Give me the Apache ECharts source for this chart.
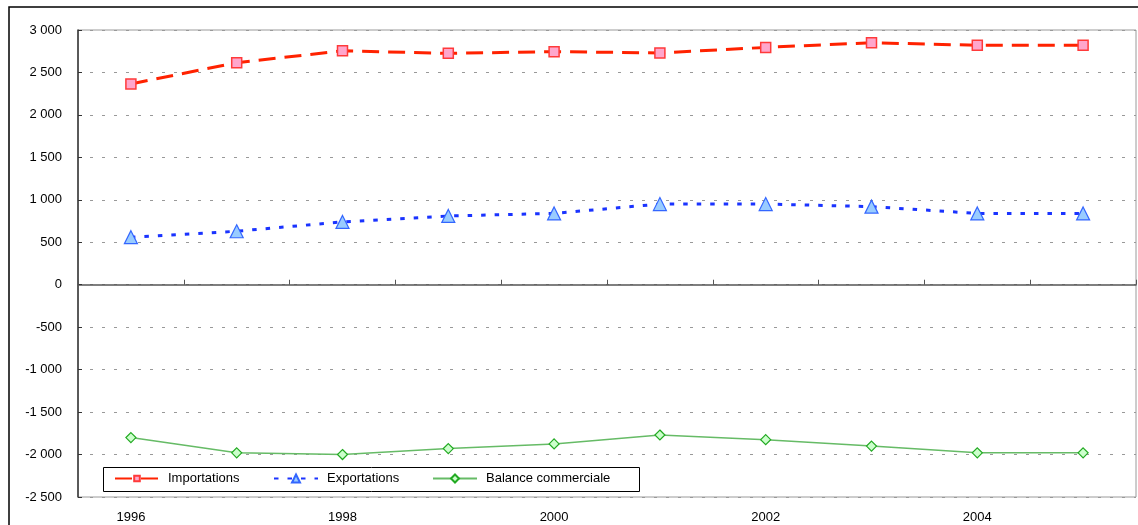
<!DOCTYPE html>
<html>
<head>
<meta charset="utf-8">
<script src="https://cdn.jsdelivr.net/npm/echarts@6/dist/echarts.min.js"></script>
<style>
  html, body { margin: 0; padding: 0; background: #fff; }
  #chart { width: 1138px; height: 525px; }
</style>
</head>
<body>
<div id="chart"></div>
<script>
const years = ['1996','1997','1998','1999','2000','2001','2002','2003','2004','2005'];
const importations = [2365, 2615, 2755, 2725, 2745, 2730, 2795, 2850, 2820, 2820];
const exportations = [560, 630, 740, 810, 840, 950, 950, 920, 840, 840];
const balance = [-1800, -1980, -2000, -1930, -1875, -1770, -1825, -1900, -1980, -1980];
const seriesNames = ['Importations', 'Exportations', 'Balance commerciale'];

const FONT = '"Liberation Sans", Arial, sans-serif';

function fmt(v) {
  const s = Math.abs(v).toString().replace(/\B(?=(\d{3})+(?!\d))/g, ' ');
  return (v < 0 ? '-' : '') + s;
}

const chart = echarts.init(document.getElementById('chart'), null, { renderer: 'canvas' });

const legendBase = {
  orient: 'horizontal',
  top: 472,
  padding: 0,
  itemWidth: 44,
  itemHeight: 10,
  textStyle: { fontFamily: FONT, fontSize: 13, color: '#000', padding: [0, 0, 0, 4] },
  selectedMode: false
};

chart.setOption({
  animation: false,
  backgroundColor: '#fff',
  textStyle: { fontFamily: FONT },
  grid: {
    left: 78, right: 2, top: 30, bottom: 28,
    show: true, borderColor: '#9a9a9a', borderWidth: 1, backgroundColor: '#fff'
  },
  xAxis: [
    {
      type: 'category', data: years, position: 'bottom', boundaryGap: true,
      axisLine: { show: false, onZero: false },
      axisTick: { show: false },
      axisLabel: { interval: 1, fontSize: 13, color: '#000', fontFamily: FONT, margin: 14 },
      splitLine: { show: false }
    },
    {
      type: 'category', data: years, position: 'top', boundaryGap: true,
      axisLine: { show: true, onZero: true, lineStyle: { color: '#555', width: 1.5 } },
      axisTick: { show: true, interval: 0, length: 5, inside: false, lineStyle: { color: '#555' } },
      axisLabel: { show: false },
      splitLine: { show: false }
    }
  ],
  yAxis: {
    type: 'value', min: -2500, max: 3000, interval: 500,
    axisLine: { show: true, lineStyle: { color: '#333', width: 1.5 } },
    axisTick: { show: true, inside: true, length: 4, lineStyle: { color: '#333' } },
    axisLabel: { formatter: fmt, fontSize: 13, color: '#000', fontFamily: FONT, margin: 16 },
    splitLine: { show: true, lineStyle: { color: '#999999', type: [3, 9], width: 1 } }
  },
  legend: [
    Object.assign({}, legendBase, { left: 114, data: [seriesNames[0]], itemHeight: 7 }),
    Object.assign({}, legendBase, { left: 273, data: [seriesNames[1]] }),
    Object.assign({}, legendBase, { left: 432, data: [seriesNames[2]] })
  ],
  graphic: [
    { type: 'rect', shape: { x: 9, y: 7, width: 1140, height: 540 },
      style: { fill: 'none', stroke: '#000', lineWidth: 1.5 }, silent: true, z: 100 },
    { type: 'rect', shape: { x: 103.5, y: 467.5, width: 536, height: 24 },
      style: { fill: 'none', stroke: '#000', lineWidth: 1 }, silent: true, z: 100 }
  ],
  series: [
    {
      name: seriesNames[0], type: 'line', data: importations, xAxisIndex: 0,
      symbol: 'rect', symbolSize: 10,
      lineStyle: { color: '#ff2200', width: 3, type: [17, 9] },
      itemStyle: { color: '#ffa6cc', borderColor: '#ff3a3a', borderWidth: 1.5 },
      z: 3
    },
    {
      name: seriesNames[1], type: 'line', data: exportations, xAxisIndex: 0,
      symbol: 'triangle', symbolSize: 13,
      lineStyle: { color: '#1a33ff', width: 3, type: [4.5, 9] },
      itemStyle: { color: '#99ccff', borderColor: '#3366ff', borderWidth: 1.2 },
      z: 3
    },
    {
      name: seriesNames[2], type: 'line', data: balance, xAxisIndex: 0,
      symbol: 'diamond', symbolSize: 10,
      lineStyle: { color: '#66bb66', width: 1.5 },
      itemStyle: { color: '#ccffcc', borderColor: '#22aa22', borderWidth: 1.2 },
      z: 3
    }
  ]
});
</script>
</body>
</html>
